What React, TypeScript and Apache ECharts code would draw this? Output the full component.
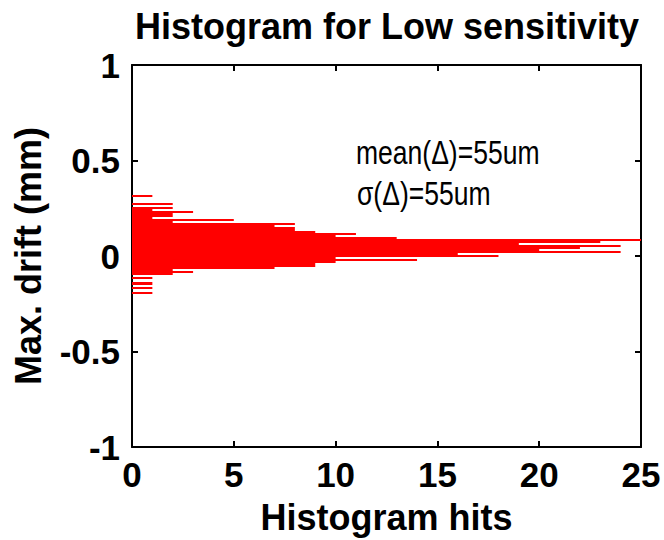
import React, { useEffect, useRef } from "react";
import * as echarts from "echarts";

// Histogram bins (centres in mm, top to bottom) and hit counts
const binCenters = [
  0.314, 0.304, 0.293, 0.283, 0.272, 0.262, 0.252, 0.241, 0.231, 0.22,
  0.21, 0.2, 0.189, 0.179, 0.168, 0.158, 0.148, 0.137, 0.127, 0.116,
  0.106, 0.095, 0.085, 0.075, 0.064, 0.054, 0.043, 0.033, 0.023, 0.012,
  0.002, -0.009, -0.019, -0.03, -0.04, -0.05, -0.061, -0.071, -0.082, -0.092,
  -0.102, -0.113, -0.123, -0.134, -0.144, -0.154, -0.165, -0.175, -0.186, -0.196,
];
const counts = [
  1, 0, 0, 0, 2, 0, 2, 1, 3, 2,
  2, 1, 5, 2, 8, 7, 8, 8, 9, 11,
  10, 13, 25, 23, 19, 24, 22, 20, 24, 16,
  18, 10, 14, 10, 9, 9, 7, 2, 3, 2,
  0, 1, 0, 0, 1, 0, 1, 0, 0, 1,
];
const binWidth = 0.0106;
const annotations = ["mean(\u0394)=55um", "\u03c3(\u0394)=55um"];

const FONT = "'Liberation Sans', Arial, Helvetica, sans-serif";

export default function App() {
  const ref = useRef<HTMLDivElement>(null);
  useEffect(() => {
    if (!ref.current) return;
    const chart = echarts.init(ref.current, null, { renderer: "svg" });
    const data = binCenters
      .map((y, i) => [counts[i], y])
      .filter((d) => d[0] > 0);
    const axisCommon = {
      axisLine: { show: true, onZero: false, lineStyle: { color: "#000", width: 2 } },
      axisTick: { show: true, inside: true, length: 6, lineStyle: { color: "#000", width: 2 } },
      splitLine: { show: false },
    };
    const bold = { fontFamily: FONT, fontWeight: "bold", fontSize: 35, color: "#000" };
    chart.setOption({
      animation: false,
      backgroundColor: "#fff",
      title: {
        text: "Histogram for Low sensitivity",
        left: 382,
        top: 3,
        textAlign: "center",
        textStyle: { ...bold, fontSize: 36 },
      },
      grid: { left: 132, top: 65, width: 509, height: 382, containLabel: false },
      xAxis: [
        {
          type: "value",
          min: 0,
          max: 25,
          interval: 5,
          position: "bottom",
          name: "Histogram hits",
          nameLocation: "middle",
          nameGap: 52,
          nameTextStyle: { ...bold, fontSize: 36 },
          axisLabel: { ...bold, margin: 10 },
          ...axisCommon,
        },
        {
          type: "value",
          min: 0,
          max: 25,
          interval: 5,
          position: "top",
          axisLabel: { show: false },
          ...axisCommon,
        },
      ],
      yAxis: [
        {
          type: "value",
          min: -1,
          max: 1,
          interval: 0.5,
          position: "left",
          name: "Max. drift (mm)",
          nameLocation: "middle",
          nameRotate: 90,
          nameGap: 86,
          nameTextStyle: { ...bold, fontSize: 36 },
          axisLabel: { ...bold, margin: 12 },
          ...axisCommon,
        },
        {
          type: "value",
          min: -1,
          max: 1,
          interval: 0.5,
          position: "right",
          axisLabel: { show: false },
          ...axisCommon,
        },
      ],
      series: [
        {
          type: "custom",
          xAxisIndex: 0,
          yAxisIndex: 0,
          encode: { x: 0, y: 1 },
          data,
          renderItem: (params: any, api: any) => {
            const c = api.value(0);
            const y = api.value(1);
            const p1 = api.coord([0, y + binWidth / 2]);
            const p2 = api.coord([c, y - binWidth / 2]);
            const top = Math.round(p1[1]);
            const bottom = Math.round(p2[1]);
            return {
              type: "rect",
              shape: { x: p1[0], y: top, width: p2[0] - p1[0], height: Math.max(1, bottom - top) },
              style: { fill: "#ff0000" },
            };
          },
        },
      ],
      graphic: [
        {
          type: "text",
          x: 356,
          y: 135,
          scaleX: 0.78,
          style: { text: annotations[0], fontFamily: FONT, fontSize: 34, fill: "#000" },
        },
        {
          type: "text",
          x: 357,
          y: 176,
          scaleX: 0.78,
          style: { text: annotations[1], fontFamily: FONT, fontSize: 34, fill: "#000" },
        },
      ],
    });
    return () => chart.dispose();
  }, []);
  return (
    <div
      ref={ref}
      style={{ position: "fixed", left: 0, top: 0, width: 664, height: 540 }}
    />
  );
}
